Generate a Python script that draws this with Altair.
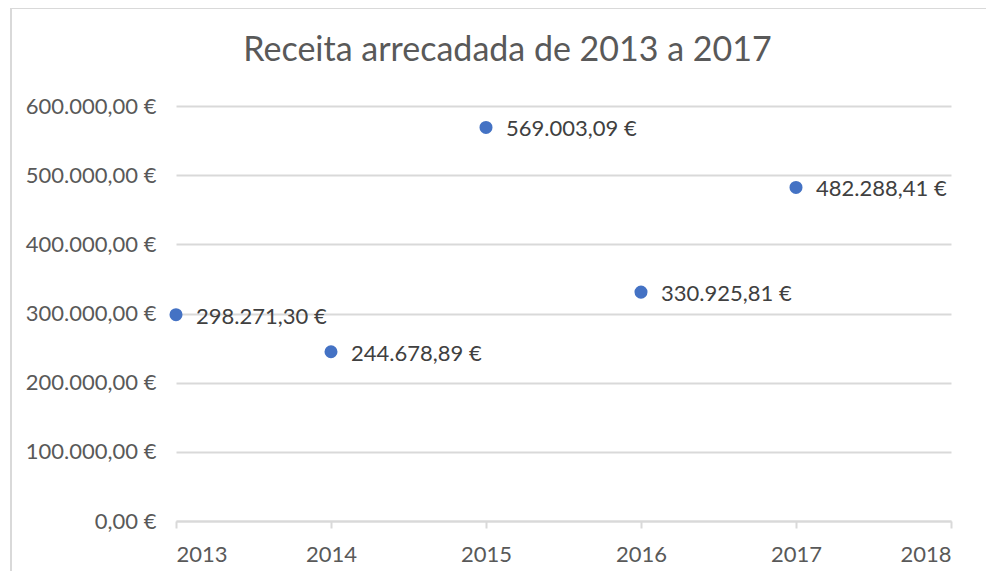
import altair as alt
import pandas as pd

anos = [2013, 2014, 2015, 2016, 2017]
receitas = [298271.30, 244678.89, 569003.09, 330925.81, 482288.41]


def fmt_eur(v):
    s = f"{v:,.2f}".replace(",", "#").replace(".", ",").replace("#", ".")
    return s + " €"


df = pd.DataFrame({"ano": anos, "receita": receitas,
                   "rotulo": [fmt_eur(v) for v in receitas]})

W, H = 775, 415
FONT = "Lato"

x = alt.X("ano:Q", scale=alt.Scale(domain=[2013, 2018], nice=False),
          axis=alt.Axis(values=[2013, 2014, 2015, 2016, 2017, 2018], format="d",
                        title=None, grid=False, domainColor="#d9d9d9", domainWidth=2,
                        tickColor="#d9d9d9", tickWidth=2, tickSize=7,
                        labelPadding=16, labelFontSize=22, labelColor="#595959",
                        labelFont=FONT))
y = alt.Y("receita:Q", scale=alt.Scale(domain=[0, 600000], nice=False),
          axis=alt.Axis(values=[0, 100000, 200000, 300000, 400000, 500000, 600000],
                        title=None, grid=True, gridColor="#d9d9d9", gridWidth=2,
                        domain=False, ticks=False, labelPadding=20,
                        labelFontSize=22, labelColor="#595959", labelFont=FONT,
                        labelExpr="replace(replace(replace(format(datum.value, ',.2f'), regexp(',', 'g'), '#'), '.', ','), regexp('#', 'g'), '.') + ' €'"))

base = alt.Chart(df)
one = base.transform_filter("datum.ano == 2013")

left_edge = one.mark_rule(stroke="#d9d9d9", strokeWidth=2, clip=False).encode(
    x=alt.value(-165), y=alt.value(-98), y2=alt.value(H + 50))
top_edge = one.mark_rule(stroke="#d9d9d9", strokeWidth=2, clip=False).encode(
    x=alt.value(-166), x2=alt.value(W + 35), y=alt.value(-98))

pts = base.mark_circle(size=170, color="#4472C4", opacity=1).encode(x=x, y=y)
lbl = base.mark_text(align="left", baseline="middle", dx=20, dy=2, fontSize=22,
                     font=FONT, color="#404040").encode(x=x, y=y, text="rotulo:N")

chart = alt.layer(left_edge, top_edge, pts, lbl).properties(
    width=W, height=H,
    title=alt.TitleParams("Receita arrecadada de 2013 a 2017", fontSize=34,
                          font=FONT, fontWeight="normal", color="#595959",
                          anchor="middle", baseline="alphabetic", dx=-56, dy=88,
                          offset=0),
    autosize=alt.AutoSizeParams(type="none"),
    padding={"left": 168, "top": 98, "right": 35, "bottom": 50},
).configure_view(stroke=None)

chart.save("out.html", embed_options={"renderer": "svg", "actions": False})
